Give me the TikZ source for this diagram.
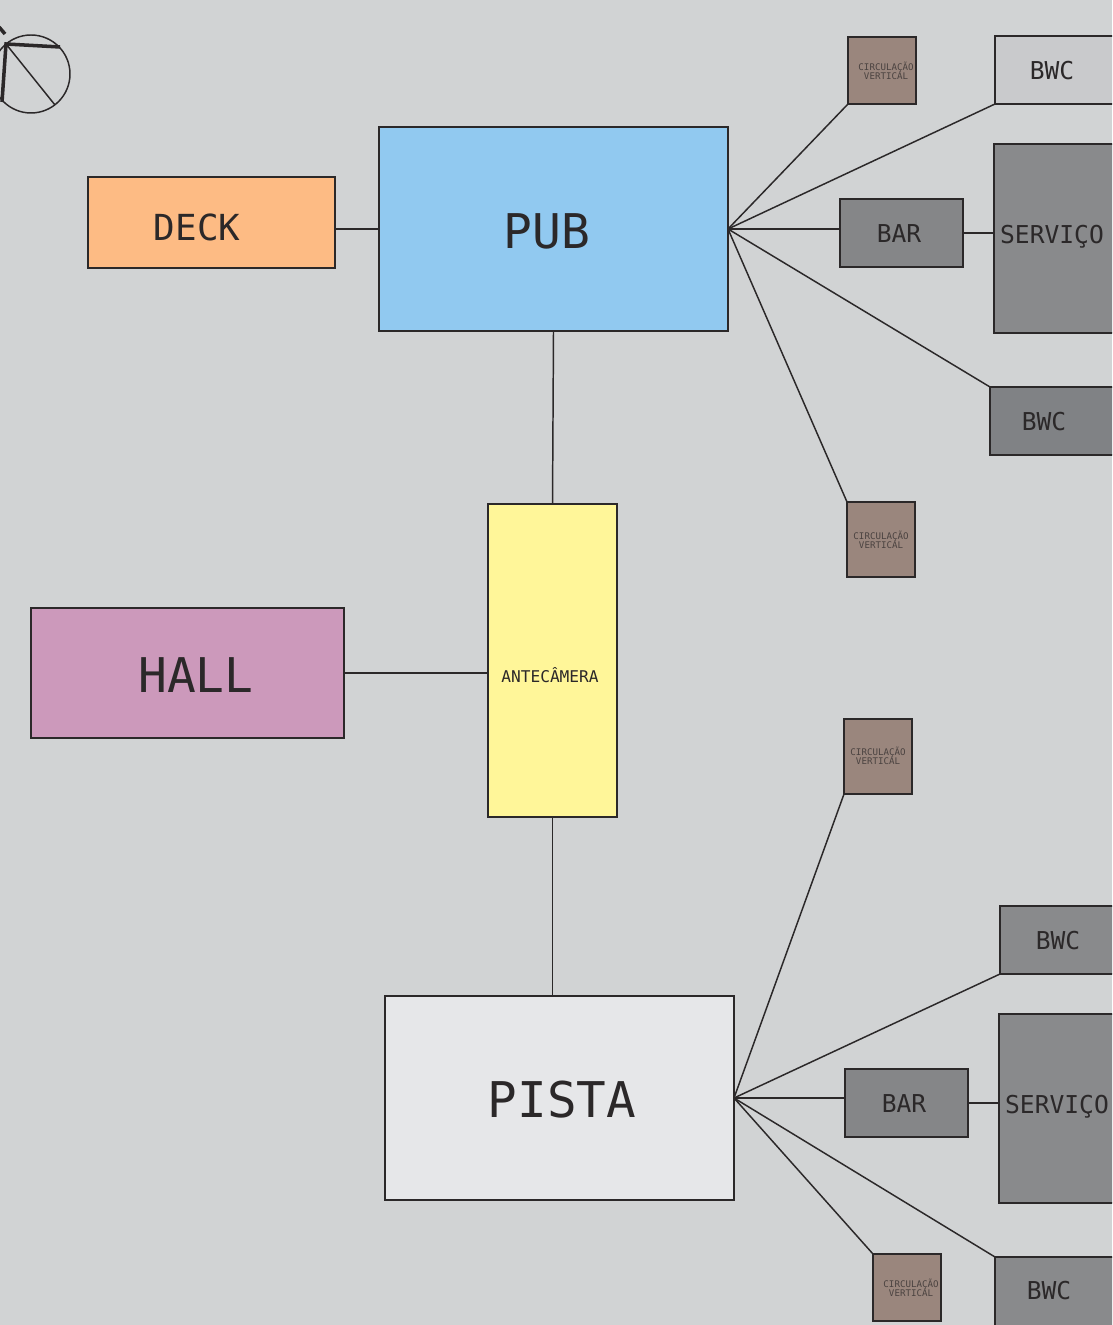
\documentclass[tikz,border=0pt]{standalone}
\usepackage{fontspec}
\setmonofont{DejaVu Sans Mono}
\definecolor{fundo}{HTML}{D1D3D4}
\definecolor{traco}{HTML}{2B2829}
\definecolor{deck}{HTML}{FDBB84}
\definecolor{pub}{HTML}{91C9F0}
\definecolor{ante}{HTML}{FFF699}
\definecolor{hall}{HTML}{CC99BB}
\definecolor{pista}{HTML}{E6E7E9}
\definecolor{circ}{HTML}{9A867D}
\definecolor{circtxt}{HTML}{4A4240}
\definecolor{wcclaro}{HTML}{C9CACC}
\definecolor{barra}{HTML}{858688}
\definecolor{wcescuro}{HTML}{808285}
\definecolor{servico}{HTML}{898A8C}
\tikzset{
  sala/.style={draw=traco, line width=0.42pt, rectangle, inner sep=0pt, outer sep=0pt},
  rotulo/.style={text=traco, font=\ttfamily, inner sep=0pt, align=center},
  liga/.style={draw=traco, line width=0.42pt},
}
% box from its corners, in reference pixels
\def\sala[#1](#2)(#3,#4)(#5,#6){\node[sala, fill=#1, minimum width={(#5-#3)*0.01cm}, minimum height={(#6-#4)*0.01cm}] (#2) at ({(#3+#5)/2},{(#4+#6)/2}) {};}
\def\texto[#1](#2)(#3,#4)#5{\node[rotulo, font=\ttfamily\fontsize{#1}{2.56}\selectfont] (#2) at (#3,#4) {#5};}
\def\circula(#1)(#2,#3){\node[rotulo, text=circtxt, font=\ttfamily\fontsize{2.6}{2.56}\selectfont] (#1) at (#2,#3) {CIRCULAÇÃO\\VERTICAL};}

\begin{document}
\begin{tikzpicture}[x=0.01cm, y=-0.01cm]
	\useasboundingbox (0,0) rectangle (1112,1325);
	\clip (0,0) rectangle (1112,1325);
	\fill[fundo] (0,0) rectangle (1112,1325);

	%%%%% COMPASS %%%%%
	\draw[traco, line width=0.42pt] (31,74) circle (39);
	\draw[traco, line width=1pt] (60,47) -- (6,44) -- (2,102);
	\draw[traco, line width=0.42pt] (6,44) -- (55,105);
	\draw[traco, line width=1pt] (-1,27) -- (5,34);

	%%%%% ROOMS %%%%%
	\sala[deck](deckbox)(88,177)(335,268);
	\sala[pub](pubbox)(379,127)(728,331);
	\sala[ante](antebox)(488,504)(617,817);
	\sala[hall](hallbox)(31,608)(344,738);
	\sala[pista](pistabox)(385,996)(734,1200);

	\sala[circ](circa)(848,37)(916,104);
	\sala[wcclaro](bwca)(995,36)(1130,104);
	\sala[barra](bara)(840,199)(963,267);
	\sala[servico](serva)(994,144)(1130,333);
	\sala[wcescuro](bwcb)(990,387)(1130,455);
	\sala[circ](circb)(847,502)(915,577);

	\sala[circ](circc)(844,719)(912,794);
	\sala[servico](bwcc)(1000,906)(1130,974);
	\sala[barra](barb)(845,1069)(968,1137);
	\sala[servico](servb)(999,1014)(1130,1203);
	\sala[servico](bwcd)(995,1257)(1130,1340);
	\sala[circ](circd)(873,1254)(941,1321);

	%%%%% CONNECTORS %%%%%
	\draw[liga] (pubbox.west) -- (pubbox.west -| deckbox.east);
	\draw[liga] (pubbox.south) -- (antebox.north);
	\draw[liga] (hallbox.east) -- (hallbox.east -| antebox.west);
	\draw[liga] (antebox.south) -- (antebox.south |- pistabox.north);

	\draw[liga] (pubbox.east) -- (circa.south west);
	\draw[liga] (pubbox.east) -- (bwca.south west);
	\draw[liga] (pubbox.east) -- (pubbox.east -| bara.west);
	\draw[liga] (pubbox.east) -- (bwcb.north west);
	\draw[liga] (pubbox.east) -- (circb.north west);
	\draw[liga] (bara.east) -- (bara.east -| serva.west);

	\draw[liga] (pistabox.east) -- (circc.south west);
	\draw[liga] (pistabox.east) -- (bwcc.south west);
	\draw[liga] (pistabox.east) -- (pistabox.east -| barb.west);
	\draw[liga] (pistabox.east) -- (bwcd.north west);
	\draw[liga] (pistabox.east) -- (circd.north west);
	\draw[liga] (barb.east) -- (barb.east -| servb.west);

	%%%%% LABELS %%%%%
	\texto[10.2](decktxt)(197,227){DECK}
	\texto[13.6](pubtxt)(547,231){PUB}
	\texto[13.6](halltxt)(196,675){HALL}
	\texto[14](pistatxt)(562,1100){PISTA}
	\texto[4.6](antetxt)(550,675){ANTECÂMERA}

	\texto[7](bwcatxt)(1052,71){BWC}
	\texto[7](baratxt)(899,234){BAR}
	\texto[7](servatxt)(1052,237){SERVIÇO}
	\texto[7](bwcbtxt)(1044,422){BWC}
	\texto[7](bwcctxt)(1058,941){BWC}
	\texto[7](barbtxt)(904,1104){BAR}
	\texto[7](servbtxt)(1057,1107){SERVIÇO}
	\texto[7](bwcdtxt)(1049,1291){BWC}

	\circula(circatxt)(886,71)
	\circula(circbtxt)(881,540)
	\circula(circctxt)(878,756)
	\circula(circdtxt)(911,1288)
\end{tikzpicture}
\end{document}
